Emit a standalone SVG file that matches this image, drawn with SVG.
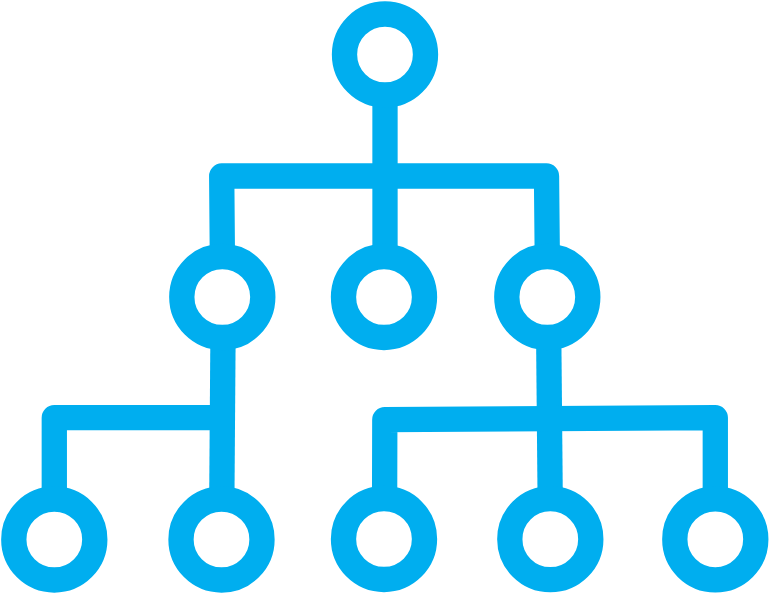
<svg xmlns="http://www.w3.org/2000/svg" width="769" height="593" viewBox="0 0 769 593">
<style>
.n{fill:none;stroke:#00AEEF;stroke-width:25.3}
.c{fill:none;stroke:#00AEEF;stroke-width:25.3;stroke-linejoin:round;stroke-linecap:butt}
</style>
<rect width="769" height="593" fill="#fff"/>
<g id="connectors">
<path class="c" d="M385 94 L385 258"/>
<path class="c" d="M222.4 258 L221.7 176 L546.5 176 L547.3 258"/>
<path class="c" d="M223 336 L221.8 501"/>
<path class="c" d="M54.3 501 L54.3 417.7 L222.5 417.7"/>
<path class="c" d="M548.7 336 L550.2 500"/>
<path class="c" d="M384.6 500 L384.8 419.7 L715.3 417.7 L715.3 500"/>
</g>
<g id="root"><circle class="n" cx="385" cy="54.5" r="40.5"/></g>
<g id="n2a"><circle class="n" cx="222.3" cy="297" r="40.5"/></g>
<g id="n2b"><circle class="n" cx="384" cy="297" r="40.5"/></g>
<g id="n2c"><circle class="n" cx="547.3" cy="297" r="40.5"/></g>
<g id="n3a"><circle class="n" cx="54.3" cy="539.5" r="40.5"/></g>
<g id="n3b"><circle class="n" cx="221.5" cy="539.5" r="40.5"/></g>
<g id="n3c"><circle class="n" cx="384" cy="539" r="40.5"/></g>
<g id="n3d"><circle class="n" cx="550.3" cy="539.2" r="40.5"/></g>
<g id="n3e"><circle class="n" cx="715.3" cy="539.3" r="40.5"/></g>
</svg>
